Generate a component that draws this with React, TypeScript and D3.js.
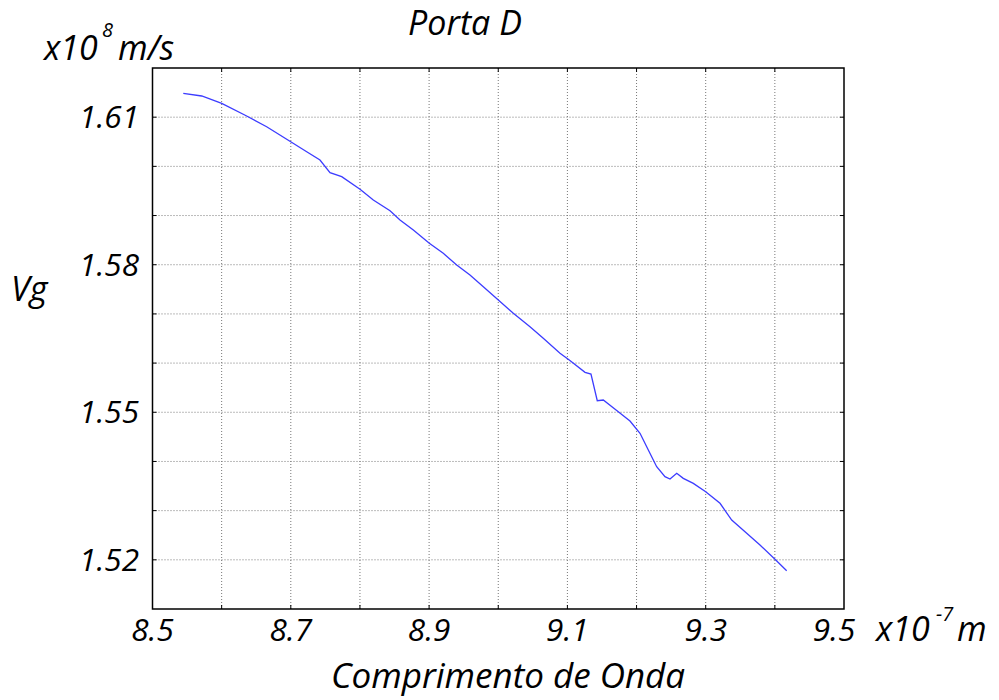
import React from "react";
import * as d3 from "d3";

const wavelength = [
  8.5445, 8.5712, 8.6001, 8.6362, 8.6651, 8.6941, 8.723, 8.7422, 8.7567, 8.7736,
  8.8001, 8.8193, 8.8435, 8.8579, 8.8772, 8.9003, 8.9205, 8.9399, 8.9591, 8.9784,
  9.0001, 9.0218, 9.0459, 9.0651, 9.0893, 9.1027, 9.1255, 9.1341, 9.1432, 9.1519,
  9.1736, 9.1905, 9.205, 9.217, 9.2291, 9.2411, 9.2484, 9.2581, 9.2676, 9.2821,
  9.3, 9.3207, 9.3376, 9.3593, 9.3785, 9.4002, 9.4171,
];
const vg = [
  1.61486, 1.61431, 1.61282, 1.61024, 1.60806, 1.6055, 1.60298, 1.60129, 1.59871, 1.5979,
  1.59534, 1.59316, 1.59098, 1.58909, 1.58706, 1.58436, 1.58232, 1.57994, 1.57791, 1.57553,
  1.57283, 1.57012, 1.5674, 1.56504, 1.56199, 1.56063, 1.55813, 1.55778, 1.55235, 1.55249,
  1.55011, 1.54822, 1.54572, 1.54233, 1.53893, 1.5369, 1.53643, 1.53759, 1.53657, 1.53555,
  1.53385, 1.53149, 1.52809, 1.52539, 1.52301, 1.5201, 1.51778,
];
const xTickLabels = ["8.5", "8.7", "8.9", "9.1", "9.3", "9.5"];
const yTickLabels = ["1.61", "1.58", "1.55", "1.52"];
const xGrid = [8.6, 8.7, 8.8, 8.9, 9.0, 9.1, 9.2, 9.3, 9.4];
const yGrid = [1.52, 1.53, 1.54, 1.55, 1.56, 1.57, 1.58, 1.59, 1.6, 1.61];
const title = "Porta D";
const xLabel = "Comprimento de Onda";
const yLabel = "Vg";

export default function App() {
  const W = 999, H = 700;
  const L = 152.5, R = 844, T = 68, B = 609;
  const x = d3.scaleLinear().domain([8.5, 9.5]).range([L, R]);
  const y = d3.scaleLinear().domain([1.51, 1.62]).range([B, T]);
  const pts = wavelength.map((w, i) => [w, vg[i]] as [number, number]);
  const line = d3.line<[number, number]>().x(d => x(d[0])).y(d => y(d[1]));
  const font = "'Open Sans', sans-serif";
  const fs = 31.5;
  const big = 34;
  return (
    <svg width={W} height={H} style={{ position: "absolute", left: 0, top: 0, background: "#fff" }}
      fontFamily={font} fontStyle="italic">
      <rect x={0} y={0} width={W} height={H} fill="#fff" />
      {xGrid.map(v => (
        <line key={"gx" + v} x1={x(v)} x2={x(v)} y1={T} y2={B} stroke="#777" strokeWidth={1} strokeDasharray="1,2" />
      ))}
      {yGrid.map(v => (
        <line key={"gy" + v} x1={L} x2={R} y1={y(v)} y2={y(v)} stroke="#777" strokeWidth={1} strokeDasharray="1,2" />
      ))}
      {xGrid.map(v => (
        <g key={"tx" + v}>
          <line x1={x(v)} x2={x(v)} y1={B} y2={B - 4} stroke="#000" />
          <line x1={x(v)} x2={x(v)} y1={T} y2={T + 4} stroke="#000" />
        </g>
      ))}
      {yGrid.map(v => (
        <g key={"ty" + v}>
          <line x1={L} x2={L + 4} y1={y(v)} y2={y(v)} stroke="#000" />
          <line x1={R} x2={R - 4} y1={y(v)} y2={y(v)} stroke="#000" />
        </g>
      ))}
      <rect x={L} y={T} width={R - L} height={B - T} fill="none" stroke="#000" strokeWidth={1.5} />
      <path d={line(pts) || ""} fill="none" stroke="#3c3cff" strokeWidth={1.3} />
      {xTickLabels.map((t, i) => (
        <text key={"xl" + t} x={x(+t) - (i === xTickLabels.length - 1 ? 10 : 0)} y={641} textAnchor="middle" fontSize={fs} fill="#000">{t}</text>
      ))}
      {yTickLabels.map(t => (
        <text key={"yl" + t} x={139} y={y(+t) + 11} textAnchor="end" fontSize={fs} fill="#000">{t}</text>
      ))}
      <text x={876} y={641} fontSize={big} fill="#000">x10</text>
      <text x={936} y={621} fontSize={20} fill="#000">-7</text>
      <text x={957} y={641} fontSize={big} fill="#000">m</text>
      <text x={44} y={60} fontSize={big} fill="#000">x10</text>
      <text x={102} y={37} fontSize={20} fill="#000">8</text>
      <text x={118} y={60} fontSize={big} fill="#000">m/s</text>
      <text x={465} y={35} textAnchor="middle" fontSize={big} fill="#000">{title}</text>
      <text x={508} y={688} textAnchor="middle" fontSize={35} fill="#000">{xLabel}</text>
      <text x={11} y={301} fontSize={big} fill="#000">{yLabel}</text>
    </svg>
  );
}
